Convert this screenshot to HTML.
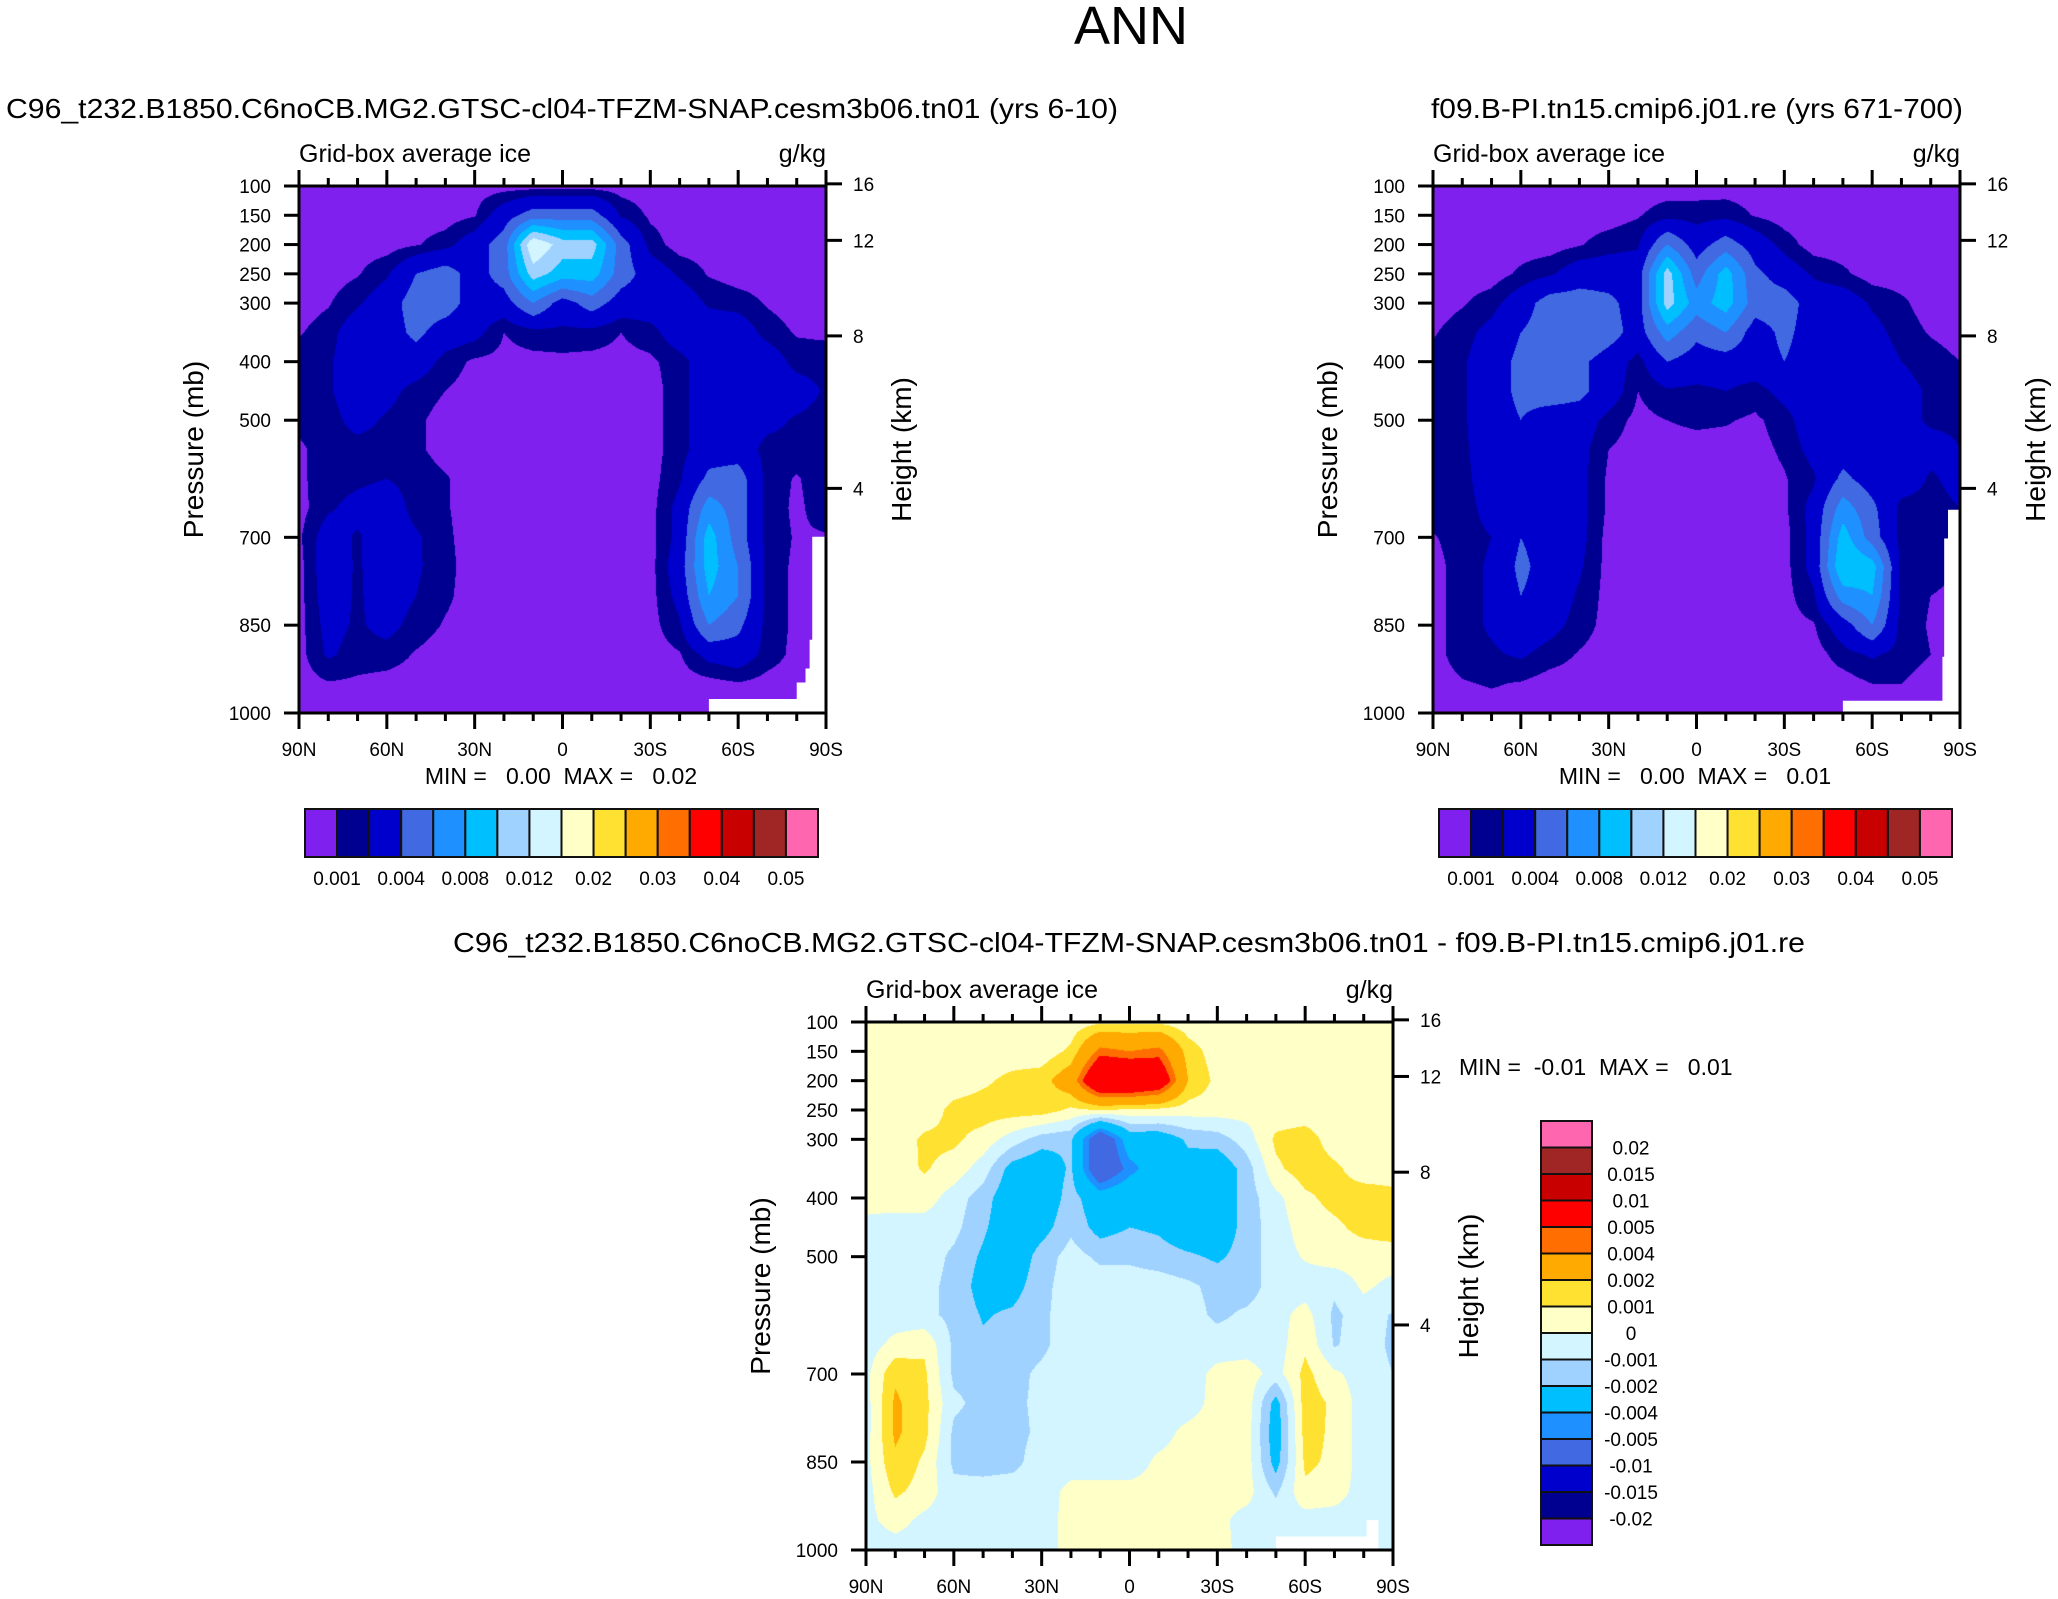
<!DOCTYPE html>
<html><head><meta charset="utf-8">
<style>
html,body{margin:0;padding:0;background:#fff;}
body{width:2058px;height:1599px;position:relative;overflow:hidden;font-family:"Liberation Sans",sans-serif;}
canvas{position:absolute;}
svg{position:absolute;left:0;top:0;}
.pre{white-space:pre;}
</style></head>
<body>
<canvas id="c1"></canvas>
<canvas id="c2"></canvas>
<canvas id="c3"></canvas>
<svg id="svg" width="2058" height="1599" xmlns="http://www.w3.org/2000/svg">
<text x="1131" y="44" font-size="54" text-anchor="middle">ANN</text>
<text x="562" y="118" font-size="28" text-anchor="middle" textLength="1112" lengthAdjust="spacingAndGlyphs">C96_t232.B1850.C6noCB.MG2.GTSC-cl04-TFZM-SNAP.cesm3b06.tn01 (yrs 6-10)</text>
<text x="1697" y="118" font-size="28" text-anchor="middle" textLength="532" lengthAdjust="spacingAndGlyphs">f09.B-PI.tn15.cmip6.j01.re (yrs 671-700)</text>
<text x="1129" y="952" font-size="28" text-anchor="middle" textLength="1352" lengthAdjust="spacingAndGlyphs">C96_t232.B1850.C6noCB.MG2.GTSC-cl04-TFZM-SNAP.cesm3b06.tn01 - f09.B-PI.tn15.cmip6.j01.re</text>
</svg>
<script>
const lats=[90,80,70,60,50,40,30,20,10,0,-10,-20,-30,-40,-50,-60,-70,-80,-90];
const levs=[100,150,200,250,300,350,400,450,500,550,600,650,700,750,800,850,900,950,1000];
const latLabels=["90N","60N","30N","0","30S","60S","90S"];
const latTicks=[90,60,30,0,-30,-60,-90];
const presTicks=[100,150,200,250,300,400,500,700,850,1000];
const hgtTicks=[16,12,8,4];
const absBounds=[0.001,0.002,0.004,0.006,0.008,0.010,0.012,0.015,0.02,0.025,0.03,0.035,0.04,0.045,0.05];
const absLabels=["0.001","0.004","0.008","0.012","0.02","0.03","0.04","0.05"];
const diffBounds=[-0.02,-0.015,-0.01,-0.005,-0.004,-0.002,-0.001,0,0.001,0.002,0.004,0.005,0.01,0.015,0.02];
const diffLabels=["-0.02","-0.015","-0.01","-0.005","-0.004","-0.002","-0.001","0","0.001","0.002","0.004","0.005","0.01","0.015","0.02"];
const palette=["#8020EE","#000090","#0000CD","#4169E1","#1E90FF","#00BFFF","#A0D2FF","#D2F5FF","#FFFFC8","#FFE132","#FFAA00","#FF6E00","#FF0000","#C80000","#A02525","#FF66B0"];

const ctrl=[
[.0005,.0005,.0005,.0005,.0005,.0005,.0005,.0005,.0005,.0005,.0005,.0005,.0005,.0005,.0005,.0005,.0005,.0005,.0005],
[.0005,.0005,.0005,.0005,.0005,.0005,.0009,.003,.005,.005,.005,.0018,.0008,.0005,.0005,.0005,.0005,.0005,.0005],
[.0005,.0005,.0005,.0005,.0009,.0015,.003,.005,.014,.011,.011,.005,.0015,.0005,.0005,.0005,.0005,.0005,.0005],
[.0005,.0005,.0009,.0018,.004,.005,.003,.005,.011,.009,.009,.005,.003,.0018,.0009,.0005,.0005,.0005,.0005],
[.0005,.0009,.0018,.003,.005,.005,.003,.003,.006,.003,.005,.003,.003,.003,.0018,.0015,.0009,.0005,.0005],
[.0009,.0015,.003,.003,.0045,.003,.0025,.001,.0015,.0017,.0015,.001,.0015,.003,.003,.003,.0015,.0009,.0008],
[.0015,.0018,.003,.003,.003,.0015,.0008,.0007,.0007,.0007,.0007,.0007,.0008,.0015,.003,.003,.003,.0015,.0015],
[.0015,.0018,.003,.0025,.0015,.001,.0006,.0005,.0005,.0005,.0005,.0005,.0006,.0015,.003,.003,.003,.0028,.0018],
[.0013,.0015,.0025,.0018,.0012,.0006,.0005,.0005,.0005,.0005,.0005,.0005,.0006,.0015,.003,.003,.0025,.0018,.0015],
[.0008,.0015,.0015,.0015,.0012,.0006,.0005,.0005,.0005,.0005,.0005,.0005,.0006,.0015,.003,.003,.0015,.0015,.0016],
[.0008,.0015,.0017,.002,.0015,.0011,.0005,.0005,.0005,.0005,.0005,.0005,.0006,.0018,.0045,.005,.0015,.0009,.0016],
[.0006,.0018,.0025,.003,.0015,.0011,.0005,.0005,.0005,.0005,.0005,.0005,.0006,.0025,.007,.005,.0015,.0008,.0015],
[.0008,.0028,.0018,.003,.0022,.0012,.0005,.0005,.0005,.0005,.0005,.0005,.0006,.0025,.009,.005,.0015,.0009,.0009],
[.0006,.003,.0018,.003,.0022,.0013,.0005,.0005,.0005,.0005,.0005,.0005,.0006,.003,.009,.006,.0015,.0008,.0006],
[.0006,.0028,.0018,.0028,.002,.0012,.0005,.0005,.0005,.0005,.0005,.0005,.0006,.0025,.008,.006,.0015,.0008,.0006],
[.0006,.0025,.0018,.0025,.0015,.0009,.0005,.0005,.0005,.0005,.0005,.0005,.0006,.0018,.006,.0045,.0015,.0008,.0006],
[.0006,.0022,.0015,.0015,.0009,.0005,.0005,.0005,.0005,.0005,.0005,.0005,.0005,.0009,.0025,.003,.0015,.0007,.0006],
[.0005,.0009,.0008,.0006,.0005,.0005,.0005,.0005,.0005,.0005,.0005,.0005,.0005,.0005,.0006,.0009,.0006,.0005,.0005],
[.0005,.0005,.0005,.0005,.0005,.0005,.0005,.0005,.0005,.0005,.0005,.0005,.0005,.0005,.0005,.0005,.0005,.0005,.0005]];

const refr=[
[.0005,.0005,.0005,.0005,.0005,.0005,.0005,.0005,.0005,.0005,.0005,.0005,.0005,.0005,.0005,.0005,.0005,.0005,.0005],
[.0005,.0005,.0005,.0005,.0005,.0005,.0005,.0009,.0015,.0015,.0016,.0009,.0005,.0005,.0005,.0005,.0005,.0005,.0005],
[.0005,.0005,.0005,.0005,.0005,.0009,.0015,.0018,.006,.003,.005,.003,.0015,.0005,.0005,.0005,.0005,.0005,.0005],
[.0005,.0005,.0005,.0012,.0018,.003,.003,.003,.011,.005,.009,.0045,.003,.0018,.0012,.0005,.0005,.0005,.0005],
[.0005,.0009,.0015,.003,.005,.005,.0045,.003,.011,.007,.009,.005,.005,.003,.003,.0018,.0012,.0005,.0005],
[.0009,.0015,.0025,.004,.005,.006,.005,.003,.007,.0045,.006,.003,.0045,.003,.003,.0025,.0015,.0009,.0005],
[.0013,.0018,.003,.0045,.005,.0045,.003,.0015,.004,.003,.003,.003,.004,.003,.003,.003,.002,.0015,.001],
[.0015,.0018,.003,.0045,.005,.0045,.003,.001,.0018,.0017,.002,.0015,.0025,.003,.003,.003,.0025,.0018,.0015],
[.0015,.0018,.003,.004,.003,.003,.0015,.0007,.001,.0012,.0011,.0008,.0015,.003,.003,.003,.0025,.0018,.0018],
[.0015,.0017,.003,.003,.003,.0025,.001,.0006,.0006,.0006,.0006,.0006,.0012,.0025,.003,.003,.003,.0025,.002],
[.0015,.0015,.003,.003,.003,.0025,.0008,.0005,.0005,.0005,.0005,.0005,.0009,.0018,.0045,.003,.003,.0018,.0025],
[.0015,.0015,.0025,.0035,.003,.0025,.0008,.0005,.0005,.0005,.0005,.0005,.0008,.0025,.007,.0045,.0015,.0015,.002],
[.0009,.0015,.002,.004,.003,.0025,.0006,.0005,.0005,.0005,.0005,.0005,.0006,.0025,.009,.005,.0015,.0015,.0015],
[.0006,.0015,.0022,.0045,.003,.0022,.0006,.0005,.0005,.0005,.0005,.0005,.0006,.0025,.010,.009,.0015,.0013,.001],
[.0006,.0015,.0022,.004,.003,.0018,.0006,.0005,.0005,.0005,.0005,.0005,.0006,.0018,.007,.008,.0015,.001,.0008],
[.0006,.0015,.0022,.003,.0025,.0015,.0006,.0005,.0005,.0005,.0005,.0005,.0006,.0009,.003,.006,.0015,.0009,.0006],
[.0006,.0015,.0018,.0022,.0015,.0009,.0005,.0005,.0005,.0005,.0005,.0005,.0005,.0005,.0015,.0022,.0015,.001,.0006],
[.0005,.0009,.0011,.0009,.0005,.0005,.0005,.0005,.0005,.0005,.0005,.0005,.0005,.0005,.0005,.001,.001,.0005,.0005],
[.0005,.0005,.0005,.0005,.0005,.0005,.0005,.0005,.0005,.0005,.0005,.0005,.0005,.0005,.0005,.0005,.0005,.0005,.0005]];

const diff=[
[.0004,.0004,.0004,.0004,.0004,.0004,.0004,.0004,.0008,.0008,.0008,.0004,.0004,.0004,.0004,.0004,.0004,.0004,.0004],
[.0004,.0004,.0004,.0004,.0004,.0004,.0004,.0012,.0045,.004,.0045,.0015,.0005,.0004,.0004,.0004,.0004,.0004,.0004],
[.0004,.0004,.0004,.0004,.0008,.0013,.0015,.003,.008,.008,.007,.002,.0007,.0005,.0005,.0005,.0005,.0005,.0005],
[.0004,.0004,.0004,.0013,.0015,.0015,.0015,.0008,.001,.0008,.0007,.0005,.0005,.0004,.0004,.0004,.0004,.0004,.0004],
[.0004,.0004,.0012,.0012,.0006,-.0005,-.0015,-.0018,-.007,-.003,-.003,-.0018,-.0015,-.0005,.0012,.0015,.0005,.0005,.0005],
[.0004,.0006,.0011,.0006,-.0005,-.0025,-.003,-.0018,-.007,-.0045,-.003,-.0025,-.003,-.0015,.0008,.0015,.0012,.0005,.0005],
[.0004,.0005,.0005,-.0005,-.0015,-.003,-.003,-.0015,-.003,-.0025,-.003,-.003,-.003,-.0015,-.0003,.0008,.0013,.0015,.0013],
[-.0003,-.0005,-.0005,-.0007,-.0018,-.003,-.0025,-.0012,-.0025,-.002,-.0022,-.003,-.003,-.0015,-.0005,.0005,.0008,.0013,.0015],
[-.0005,-.0005,-.0005,-.0012,-.0022,-.003,-.0015,-.0006,-.0012,-.0012,-.0015,-.0018,-.0022,-.0015,-.0005,.0001,.0005,.0005,.0005],
[-.0005,-.0005,-.0007,-.0013,-.0025,-.0025,-.0013,-.0005,-.0005,-.0005,-.0005,-.0008,-.0013,-.0015,-.0005,-.0005,-.0008,.0002,-.0003],
[-.0005,-.0005,-.0007,-.0013,-.0021,-.0018,-.0012,-.0005,-.0005,-.0005,-.0005,-.0006,-.0012,-.0008,-.0004,.0004,-.0012,-.0005,-.0011],
[-.0005,.0003,.0008,-.0012,-.0018,-.0015,-.0012,-.0005,-.0005,-.0005,-.0005,-.0005,-.0005,-.0005,-.0005,.0008,-.0011,-.0005,-.0012],
[-.0003,.0018,.0012,-.0012,-.0013,-.0013,-.0008,-.0005,-.0005,-.0005,-.0005,-.0005,.0003,.0005,-.0004,.0013,.0002,-.0005,-.001],
[-.0004,.0022,.0013,-.0008,-.0013,-.0012,-.0008,-.0005,-.0005,-.0005,-.0005,-.0005,.0004,.0006,-.0025,.0015,.0008,-.0005,-.0005],
[-.0004,.0022,.0013,-.0012,-.0015,-.0013,-.0008,-.0004,-.0004,-.0004,-.0004,.0003,.0005,.0005,-.0028,.0014,.0008,-.0005,-.0005],
[-.0003,.0018,.0008,-.0012,-.0014,-.0013,-.0005,-.0005,-.0005,-.0005,.0002,.0004,.0005,.0005,-.0025,.0012,.0008,-.0005,-.0005],
[-.0004,.0012,.0006,-.0007,-.0006,-.0005,-.0005,.0003,.0003,.0003,.0003,.0003,.0003,.0004,-.0012,.0008,.0005,-.0005,-.0005],
[-.0003,.0004,-.0003,-.0005,-.0005,-.0005,-.0005,.0004,.0004,.0004,.0003,.0002,.0003,-.0004,-.0004,-.0005,-.0005,-.0005,-.0005],
[-.0005,-.0005,-.0005,-.0005,-.0005,-.0005,-.0005,.0004,.0004,.0004,.0004,.0003,.0003,-.0003,-.0005,-.0005,-.0005,-.0005,-.0005]];

/* below-surface (missing data) outlines in [lat, pressure] */
const mask1=[[-50,1000],[-50,976],[-80,976],[-80,948],[-83,948],[-83,924],[-84.4,924],[-84.4,875],[-85.3,875],[-85.3,699],[-90,699],[-90,1000]];
const mask2=[[-50,1000],[-50,979],[-84,979],[-84,904],[-84.6,904],[-84.6,702],[-85.9,702],[-85.9,653],[-90,653],[-90,1000]];
const mask3=[[-50,1000],[-50,977],[-81,977],[-81,949],[-85,949],[-85,1000]];

const NS="http://www.w3.org/2000/svg";
const svg=document.getElementById('svg');
function mk(tag,attrs,parent){const e=document.createElementNS(NS,tag);for(const k in attrs)e.setAttribute(k,attrs[k]);(parent||svg).appendChild(e);return e;}

function colorIndex(v,bounds){let i=0;while(i<bounds.length&&v>=bounds[i])i++;return i;}
function hex2rgb(h){return [parseInt(h.substr(1,2),16),parseInt(h.substr(3,2),16),parseInt(h.substr(5,2),16)];}
const palRGB=palette.map(hex2rgb);

function drawPanel(id,X0,Y0,W,H,grid,bounds,mask,sub){
  const xS=lat=>X0+(90-lat)/180*W;
  const yS=p=>Y0+(p-100)/900*H;
  const cv=document.getElementById(id);
  cv.width=W;cv.height=H;cv.style.left=X0+'px';cv.style.top=Y0+'px';
  const ctx=cv.getContext('2d');const img=ctx.createImageData(W,H);
  for(let py=0;py<H;py++){
    const p=100+(py+0.5)/H*900;let fj=(p-levs[0])/(levs[1]-levs[0]);
    let j=Math.min(Math.floor(fj),levs.length-2);let ty=fj-j;
    for(let px=0;px<W;px++){
      const lat=90-(px+0.5)/W*180;let fi=(lats[0]-lat)/(lats[0]-lats[1]);
      let i=Math.min(Math.floor(fi),lats.length-2);let tx=fi-i;
      const v=(grid[j][i]*(1-tx)+grid[j][i+1]*tx)*(1-ty)+(grid[j+1][i]*(1-tx)+grid[j+1][i+1]*tx)*ty;
      const c=palRGB[colorIndex(v,bounds)];const o=(py*W+px)*4;
      img.data[o]=c[0];img.data[o+1]=c[1];img.data[o+2]=c[2];img.data[o+3]=255;
    }
  }
  ctx.putImageData(img,0,0);
  const g=mk('g',{});
  
  
  const mp=mk('polygon',{points:mask.map(q=>xS(q[0])+','+yS(q[1])).join(' '),fill:'#fff'},g);
  
  
  const fr=mk('rect',{x:X0,y:Y0,width:W,height:H,fill:'none',stroke:'#000','stroke-width':3},g);
  
  
  for(let lat=90;lat>=-90;lat-=10){
    const major=(lat%30===0);const L=major?16:8;const x=xS(lat);
    const t1=mk('line',{x1:x,x2:x,y1:Y0,y2:Y0-L,stroke:'#000','stroke-width':3},g);
    
    
    const t2=mk('line',{x1:x,x2:x,y1:Y0+H,y2:Y0+H+L,stroke:'#000','stroke-width':3},g);
    
    
  }
  latTicks.forEach((lat,k)=>{
    const t=mk('text',{x:xS(lat),y:Y0+H+43,'font-size':19,'text-anchor':'middle'},g);t.textContent=latLabels[k];
    
    
  });
  presTicks.forEach(p=>{
    const y=yS(p);
    const l=mk('line',{x1:X0-15,x2:X0,y1:y,y2:y,stroke:'#000','stroke-width':3},g);
    
    
    const t=mk('text',{x:X0-28,y:y+7,'font-size':19,'text-anchor':'end'},g);t.textContent=p;
    
    
  });
  hgtTicks.forEach(h=>{
    const p=1013.25*Math.pow(1-2.25577e-5*h*1000,5.25588);const y=yS(p);
    const l=mk('line',{x1:X0+W,x2:X0+W+16,y1:y,y2:y,stroke:'#000','stroke-width':3},g);
    
    
    const t=mk('text',{x:X0+W+27,y:y+7,'font-size':19},g);t.textContent=h;
    
    
  });
  const a=mk('text',{x:X0,y:Y0-24,'font-size':25},g);a.textContent='Grid-box average ice';
  
  
  const u=mk('text',{x:X0+W,y:Y0-24,'font-size':25,'text-anchor':'end'},g);u.textContent='g/kg';
  
  
  const yl=mk('text',{x:0,y:0,'font-size':28,'text-anchor':'middle',transform:`translate(${X0-96},${Y0+H/2}) rotate(-90)`},g);yl.textContent='Pressure (mb)';
  
  
  const hl=mk('text',{x:0,y:0,'font-size':28,'text-anchor':'middle',transform:`translate(${X0+W+85},${Y0+H/2}) rotate(-90)`},g);hl.textContent='Height (km)';
  
  
}

function hbar(X,Y,sub,minmax){
  const W=513,H=48,n=16,bw=W/n;
  const g=mk('g',{});
  
  
  for(let i=0;i<n;i++){
    const r=mk('rect',{x:X+i*bw,y:Y,width:bw,height:H,fill:palette[i],stroke:'#111','stroke-width':2},g);
    
    
  }
  absLabels.forEach((lab,k)=>{
    const t=mk('text',{x:X+(1+2*k)*bw,y:Y+H+28,'font-size':19,'text-anchor':'middle'},g);t.textContent=lab;
    
    
  });
  const m=mk('text',{x:X+256,y:Y-25,'font-size':23,'text-anchor':'middle','class':'pre'},g);m.textContent=minmax;
  
  
}

drawPanel('c1',299,186,527,527,ctrl,absBounds,mask1,'control');
drawPanel('c2',1433,186,527,527,refr,absBounds,mask2,'reference');
drawPanel('c3',866,1022,527,528,diff,diffBounds,mask3,'difference');
hbar(305,809,'control','MIN =   0.00  MAX =   0.02');
hbar(1439,809,'reference','MIN =   0.00  MAX =   0.01');

(function(){
  const X=1541,Y=1121,W=51,bh=26.5,n=16;
  const g=mk('g',{});
  
  
  for(let i=0;i<n;i++){
    const r=mk('rect',{x:X,y:Y+i*bh,width:W,height:bh,fill:palette[n-1-i],stroke:'#111','stroke-width':2},g);
    
    
  }
  for(let k=0;k<diffLabels.length;k++){
    const t=mk('text',{x:1631,y:Y+(k+1)*bh+7,'font-size':19,'text-anchor':'middle'},g);t.textContent=diffLabels[diffLabels.length-1-k];
    
    
  }
  const m=mk('text',{x:1459,y:1075,'font-size':23,'class':'pre'},g);m.textContent='MIN =  -0.01  MAX =   0.01';
  
  
})();
</script>
</body></html>
